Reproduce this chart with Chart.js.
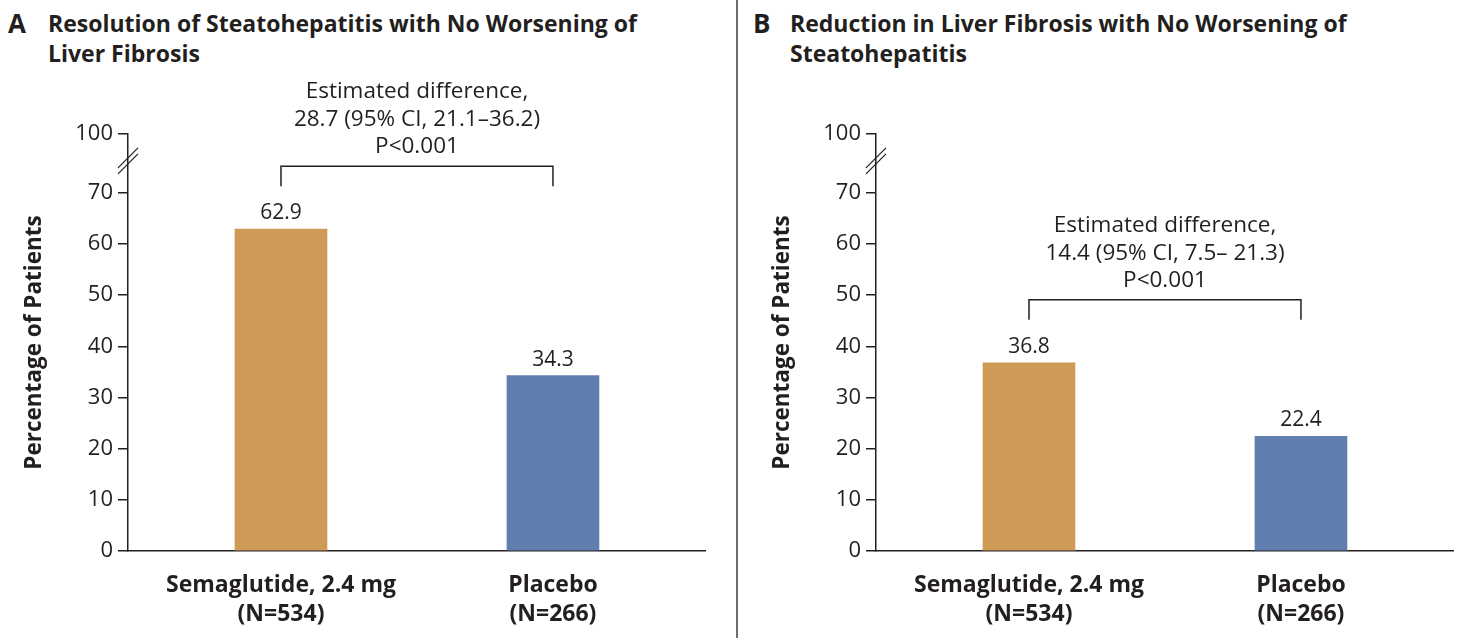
<!DOCTYPE html>
<html>
<head>
<meta charset="utf-8">
<script src="https://cdn.jsdelivr.net/npm/chart.js@4.4.1/dist/chart.umd.min.js"></script>
<style>
  html, body { margin: 0; padding: 0; background: #fff; }
  body { width: 1460px; height: 638px; position: relative; overflow: hidden; font-family: "Open Sans", sans-serif; color: #231f20; }
  .panel { position: absolute; top: 0; height: 638px; }
  .title { position: absolute; font-weight: 700; font-size: 23px; line-height: 30px; color: #231f20; }
  .letter { position: absolute; font-weight: 700; font-size: 26px; line-height: 30px; }
  .divider { position: absolute; left: 736px; top: 0; width: 2px; height: 638px; background: #6d6d6d; }
</style>
</head>
<body>
<div class="letter" style="left:8px;top:8px">A</div>
<div class="title" style="left:48px;top:8px">Resolution of Steatohepatitis with No Worsening of<br>Liver Fibrosis</div>
<div class="letter" style="left:753px;top:8px">B</div>
<div class="title" style="left:790px;top:8px">Reduction in Liver Fibrosis with No Worsening of<br>Steatohepatitis</div>
<div class="divider"></div>
<div class="panel" style="left:0;width:737px"><canvas id="chartA"></canvas></div>
<div class="panel" style="left:748px;width:712px"><canvas id="chartB"></canvas></div>
<script>
// groups on the x axis
const groups = [["Semaglutide, 2.4 mg", "(N=534)"], ["Placebo", "(N=266)"]];
const barColors = ["#CF9A55", "#607FAE"];

// percentage of patients
const resolutionValues = [62.9, 34.3];
const fibrosisValues = [36.8, 22.4];

const resolutionNote = ["Estimated difference,", "28.7 (95% CI, 21.1\u201336.2)", "P<0.001"];
const fibrosisNote = ["Estimated difference,", "14.4 (95% CI, 7.5\u2013 21.3)", "P<0.001"];

// y ticks below the axis break, and the label shown above it
const yTicks = [0, 10, 20, 30, 40, 50, 60, 70];
const yBreakLabel = "100";
const Y_TOP = 81.5; // where the "100" tick sits on the broken axis

const INK = "#231f20";
const FONT = "'Open Sans', sans-serif";

const annotate = {
  id: "annotate",
  afterDatasetsDraw(chart, args, opts) {
    const ctx = chart.ctx;
    const bars = chart.getDatasetMeta(0).data;
    const area = chart.chartArea;
    ctx.save();
    ctx.fillStyle = INK;
    ctx.strokeStyle = INK;
    ctx.textAlign = "center";
    ctx.textBaseline = "alphabetic";

    // values above the bars
    ctx.font = "21px " + FONT;
    const vals = chart.data.datasets[0].data;
    bars.forEach((b, i) => {
      ctx.fillText(vals[i].y.toFixed(1), b.x, b.y - 10);
    });

    // bracket with the estimated difference
    const x0 = bars[0].x, x1 = bars[1].x;
    const yb = Math.min(...bars.map(b => b.y)) - 63;
    ctx.lineWidth = 1.5;
    ctx.beginPath();
    ctx.moveTo(x0, yb + 20);
    ctx.lineTo(x0, yb);
    ctx.lineTo(x1, yb);
    ctx.lineTo(x1, yb + 20);
    ctx.stroke();
    const cx = (x0 + x1) / 2;
    const lines = opts.note;
    ctx.font = "22.5px " + FONT;
    ctx.fillText(lines[2], cx, yb - 13);
    ctx.fillText(lines[1], cx, yb - 40);
    ctx.fillText(lines[0], cx, yb - 68);

    // axis break marks
    const ax = area.left;
    const ym = chart.scales.y.getPixelForValue(70) - 32;
    ctx.lineWidth = 1.3;
    [-3, 3].forEach(d => {
      ctx.beginPath();
      ctx.moveTo(ax - 10, ym + d + 10);
      ctx.lineTo(ax + 10, ym + d - 10);
      ctx.stroke();
    });
    ctx.restore();
  }
};

function makePanel(id, values, note, padRight) {
  return new Chart(document.getElementById(id), {
    type: "bar",
    data: {
      datasets: [{
        data: values.map((v, i) => ({ x: i, y: v })),
        backgroundColor: barColors,
        barThickness: 92
      }]
    },
    options: {
      responsive: false,
      animation: false,
      layout: { padding: { top: 134, right: padRight, left: 0, bottom: 0 } },
      plugins: {
        legend: { display: false },
        tooltip: { enabled: false },
        annotate: { note: note }
      },
      scales: {
        x: {
          type: "linear",
          offset: false,
          min: -0.5625,
          max: 1.559,
          afterBuildTicks: s => { s.ticks = groups.map((g, i) => ({ value: i })); },
          afterFit: s => { s.height = 87; },
          grid: { display: false, offset: false },
          border: { display: true, color: INK, width: 1.5 },
          ticks: {
            autoSkip: false,
            maxRotation: 0,
            padding: 12,
            color: INK,
            font: { family: FONT, size: 23, weight: "bold", lineHeight: 1.25 },
            callback: v => groups[v]
          }
        },
        y: {
          min: 0,
          max: Y_TOP,
          afterBuildTicks: s => { s.ticks = yTicks.map(v => ({ value: v })).concat([{ value: Y_TOP }]); },
          afterFit: s => { s.width = 128; },
          grid: { drawOnChartArea: false, drawTicks: true, tickLength: 10, color: INK, lineWidth: 1.5 },
          border: { display: true, color: INK, width: 1.5 },
          ticks: {
            padding: 5,
            color: INK,
            font: { family: FONT, size: 22 },
            callback: v => (v === Y_TOP ? yBreakLabel : String(v))
          },
          title: {
            display: true,
            text: "Percentage of Patients",
            color: INK,
            font: { family: FONT, size: 22.5, weight: "bold" },
            padding: { top: 21, bottom: 0 }
          }
        }
      }
    },
    plugins: [annotate]
  });
}

document.getElementById("chartA").width = 737;
document.getElementById("chartA").height = 638;
document.getElementById("chartB").width = 712;
document.getElementById("chartB").height = 638;
makePanel("chartA", resolutionValues, resolutionNote, 32);
makePanel("chartB", fibrosisValues, fibrosisNote, 7);
</script>
</body>
</html>
